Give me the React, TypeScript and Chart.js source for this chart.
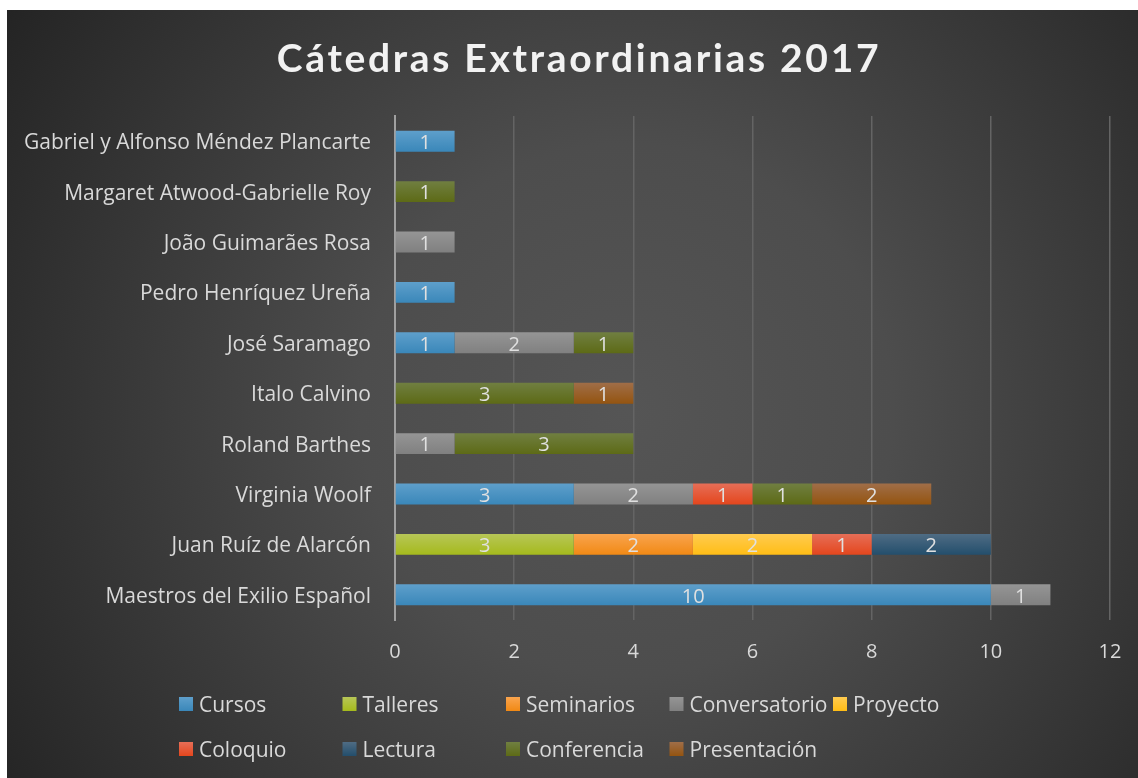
import React, { useEffect, useRef } from "react";
import { Chart, registerables } from "chart.js";

Chart.register(...registerables);

const categories = [
  "Gabriel y Alfonso Méndez Plancarte",
  "Margaret Atwood-Gabrielle Roy",
  "João Guimarães Rosa",
  "Pedro Henríquez Ureña",
  "José Saramago",
  "Italo Calvino",
  "Roland Barthes",
  "Virginia Woolf",
  "Juan Ruíz de Alarcón",
  "Maestros del Exilio Español",
];

const cursos = [1, null, null, 1, 1, null, null, 3, null, 10];
const talleres = [null, null, null, null, null, null, null, null, 3, null];
const seminarios = [null, null, null, null, null, null, null, null, 2, null];
const conversatorio = [null, null, 1, null, 2, null, 1, 2, null, 1];
const proyecto = [null, null, null, null, null, null, null, null, 2, null];
const coloquio = [null, null, null, null, null, null, null, 1, 1, null];
const lectura = [null, null, null, null, null, null, null, null, 2, null];
const conferencia = [null, 1, null, null, 1, 3, 3, 1, null, null];
const presentacion = [null, null, null, null, null, 1, null, 2, null, null];

const seriesNames = [
  "Cursos",
  "Talleres",
  "Seminarios",
  "Conversatorio",
  "Proyecto",
  "Coloquio",
  "Lectura",
  "Conferencia",
  "Presentación",
];
const seriesData = [cursos, talleres, seminarios, conversatorio, proyecto, coloquio, lectura, conferencia, presentacion];
const topColors = ["#5e9fcb", "#b7c657", "#f9a44e", "#959595", "#ffcb50", "#e66e57", "#4f6c84", "#707f41", "#a06e48"];
const bottomColors = ["#3a87b9", "#a5ba1c", "#f18914", "#808080", "#ffbd15", "#e4461d", "#234e6c", "#5d6a16", "#945410"];

const xTicks = [0, 2, 4, 6, 8, 10, 12];
const chartTitle = "Cátedras Extraordinarias 2017";

const FONT = "'Open Sans', Lato, sans-serif";
const TITLE_FONT = "Lato, 'Open Sans', sans-serif";
const TEXT = "#d9d9d9";

export default function App() {
  const ref = useRef<HTMLCanvasElement | null>(null);

  useEffect(() => {
    const canvas = ref.current;
    if (!canvas) return;

    const bgPlugin = {
      id: "bg",
      beforeDraw(chart: any) {
        const { ctx, width, height } = chart;
        ctx.save();
        const g = ctx.createRadialGradient(620, 400, 0, 620, 400, 760);
        g.addColorStop(0, "#555555");
        g.addColorStop(0.35, "#4d4d4d");
        g.addColorStop(0.7, "#363636");
        g.addColorStop(1, "#222222");
        ctx.fillStyle = g;
        ctx.fillRect(0, 0, width, height);
        ctx.restore();
      },
    };

    const titlePlugin = {
      id: "customTitle",
      afterDraw(chart: any) {
        const { ctx } = chart;
        ctx.save();
        ctx.font = `bold 39px ${TITLE_FONT}`;
        (ctx as any).letterSpacing = "2.7px";
        ctx.fillStyle = "#f2f2f2";
        ctx.textAlign = "center";
        ctx.textBaseline = "middle";
        ctx.fillText(chartTitle, 572, 49);
        ctx.restore();
      },
    };

    const labelPlugin = {
      id: "valueLabels",
      afterDatasetsDraw(chart: any) {
        const { ctx } = chart;
        ctx.save();
        ctx.font = `20px ${FONT}`;
        ctx.fillStyle = "#e0e0e0";
        ctx.textAlign = "center";
        ctx.textBaseline = "middle";
        chart.data.datasets.forEach((ds: any, di: number) => {
          const meta = chart.getDatasetMeta(di);
          meta.data.forEach((el: any, i: number) => {
            const v = ds.data[i];
            if (v == null || v === 0) return;
            const props = el.getProps(["x", "y", "base"], true);
            ctx.fillText(String(v), (props.x + props.base) / 2, props.y + 2);
          });
        });
        ctx.restore();
      },
    };

    const legendPlugin = {
      id: "gridLegend",
      afterDraw(chart: any) {
        const { ctx } = chart;
        ctx.save();
        ctx.font = `21px ${FONT}`;
        ctx.textBaseline = "middle";
        ctx.textAlign = "left";
        const x0 = 172;
        const colW = 163.5;
        const rows = [694, 739];
        const perRow = 5;
        seriesNames.forEach((name, i) => {
          const row = i < perRow ? 0 : 1;
          const col = i < perRow ? i : i - perRow;
          const x = x0 + col * colW;
          const y = rows[row];
          const g = ctx.createLinearGradient(0, y - 7, 0, y + 7);
          g.addColorStop(0, topColors[i]);
          g.addColorStop(1, bottomColors[i]);
          ctx.fillStyle = g;
          ctx.fillRect(x, y - 7, 14, 14);
          ctx.fillStyle = TEXT;
          ctx.fillText(name, x + 20, y + 2);
        });
        ctx.restore();
      },
    };

    const makeBg = (i: number) => (c: any) => {
      const chart = c.chart;
      const ys = chart.scales && chart.scales.y;
      if (!chart.chartArea || !ys || c.type !== "data") return topColors[i];
      const y = ys.getPixelForValue(c.dataIndex);
      const g = chart.ctx.createLinearGradient(0, y - 10.5, 0, y + 10.5);
      g.addColorStop(0, topColors[i]);
      g.addColorStop(1, bottomColors[i]);
      return g;
    };

    const chart = new Chart(canvas, {
      type: "bar",
      data: {
        labels: categories,
        datasets: seriesNames.map((name, i) => ({
          label: name,
          data: seriesData[i] as any,
          backgroundColor: makeBg(i),
          borderWidth: 0,
          barPercentage: 0.83,
          categoryPercentage: 0.5,
        })),
      },
      options: {
        indexAxis: "y",
        animation: false,
        responsive: false,
        maintainAspectRatio: false,
        layout: { padding: { top: 106, right: 28, bottom: 118, left: 0 } },
        plugins: {
          legend: { display: false },
          tooltip: { enabled: false },
          title: { display: false },
        },
        scales: {
          x: {
            stacked: true,
            min: 0,
            max: 12,
            afterBuildTicks: (scale: any) => {
              scale.ticks = xTicks.map((v) => ({ value: v }));
            },
            afterFit: (scale: any) => {
              scale.height = 40;
              scale.paddingLeft = 0;
              scale.paddingRight = 0;
            },
            grid: { color: "#646464", lineWidth: 1.5, drawTicks: false },
            border: { display: false },
            ticks: {
              color: TEXT,
              font: { family: FONT, size: 20 },
              padding: 20,
            },
          },
          y: {
            stacked: true,
            afterFit: (scale: any) => {
              scale.width = 388;
              scale.paddingTop = 0;
              scale.paddingBottom = 0;
            },
            grid: { display: false, drawTicks: false },
            border: { display: true, color: "#a0a0a0", width: 2 },
            ticks: {
              color: TEXT,
              font: { family: FONT, size: 21 },
              padding: 24,
              labelOffset: 2,
            },
          },
        },
      },
      plugins: [bgPlugin, labelPlugin, legendPlugin, titlePlugin],
    } as any);

    return () => chart.destroy();
  }, []);

  return (
    <div style={{ position: "fixed", left: 7, top: 10, width: 1131, height: 768 }}>
      <canvas ref={ref} width={1131} height={768} style={{ display: "block", width: 1131, height: 768 }} />
    </div>
  );
}
